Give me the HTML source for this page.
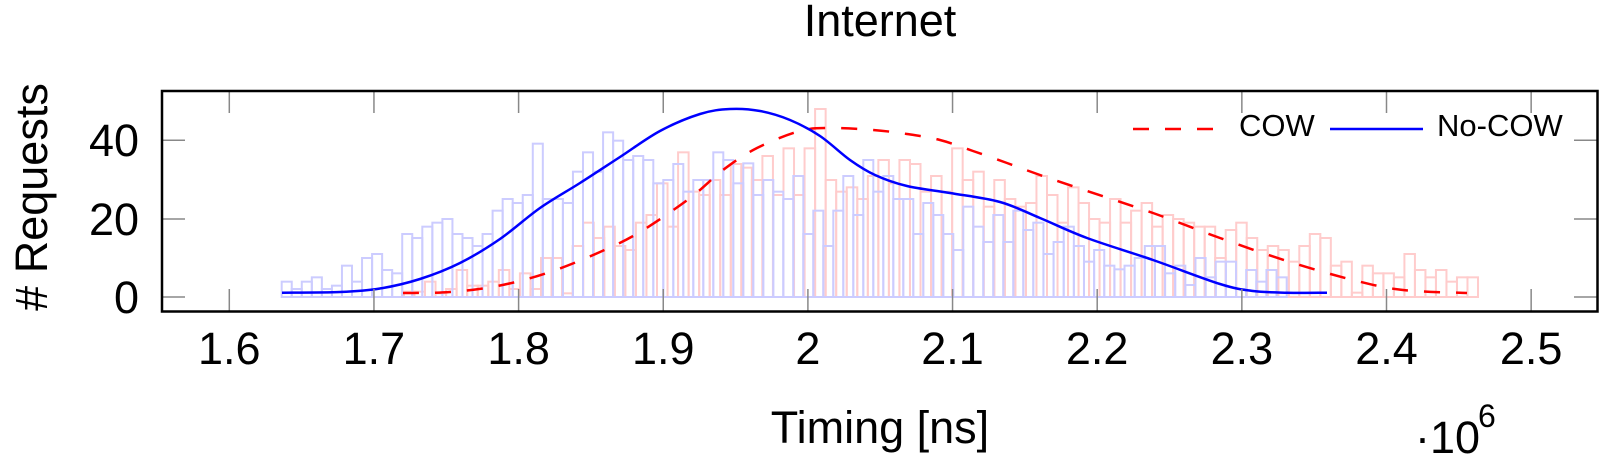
<!DOCTYPE html>
<html><head><meta charset="utf-8">
<style>
html,body{margin:0;padding:0;background:#fff;}
svg{display:block;}
text{font-family:"Liberation Sans","DejaVu Sans",sans-serif;fill:#000;}
</style></head>
<body>
<svg id="s" width="1600" height="462" viewBox="0 0 1600 462" xmlns="http://www.w3.org/2000/svg">
<text x="880" y="36" font-size="45" text-anchor="middle">Internet</text>
<g id="bars"></g>
<g id="curves"></g>
<g stroke="#888" stroke-width="1.5" id="ticks"></g>
<rect x="162" y="91" width="1435.5" height="220.5" fill="none" stroke="#000" stroke-width="2.5"/>
<g font-size="45" text-anchor="middle" id="xl"></g>
<g font-size="45" text-anchor="end">
<text x="139" y="156">40</text>
<text x="139" y="235">20</text>
<text x="139" y="313">0</text>
</g>
<text transform="translate(47,197) rotate(-90)" font-size="45" text-anchor="middle"># Requests</text>
<text x="880" y="443" font-size="45" text-anchor="middle">Timing [ns]</text>
<text x="1415" y="453" font-size="45">·10</text>
<text x="1478" y="427" font-size="32">6</text>
<line x1="1133" y1="129" x2="1213" y2="129" stroke="#f00" stroke-width="2.5" stroke-dasharray="16 16"/>
<text x="1239" y="136" font-size="31">COW</text>
<line x1="1330" y1="129" x2="1423" y2="129" stroke="#00f" stroke-width="2.5"/>
<text x="1437" y="136" font-size="31">No-COW</text>
</svg>
<script>
var NS="http://www.w3.org/2000/svg";
function el(p,n,a){var e=document.createElementNS(NS,n);for(var k in a)e.setAttribute(k,a[k]);p.appendChild(e);return e;}
var base=297;
function segs(list,x0,x1){var w=(x1-x0)/list.length;return list.map(function(t,i){return [x0+i*w,w,100+t/3];});}
var blue=[].concat(
 segs([545,567,545,532,567,557,497,545,474,462,510,520,402,414,380,368,357,402,414,438,402,332,297,309,285,131,297,297,309,215,157,215,97,122,180,168,180],281.7,653.3),
 segs([250,240,192,275,240,240,157,180,250,190,285,240,275,297,228,402,332,438,332,228,345,180,275,228,297,297,402,309,345,402,450,320,380,426,345,426,332,390],653.3,1033.3),
 segs([368,462,426,380,438,485,450,497,508,497,474,438,438,520,497,555,474,532,485,485,567,510,545,510,532],1033.3,1286.7));
var red=[].concat(
 segs([575,575],404,425),
 segs([545,580,567,510,557,557,545,510,567,520,567,474,474,580,438,368,414,380,438,450,368,345],425,657),
 segs([250,380,157,275,285,240,285,192,203,240,168,285,145,285,145,27,240,275,262,297,228,180,250,180,192,275,228,275,145,240,215,320,240,297,320,309,228],657,1047),
 segs([285,368,262,309,357,368,297,368,332,309,380,345,357,368,380,380,474,390,368,414,450,438,450,485,438,402,414,497,485,578,497,520,520,532,462,510,532,510,545,532,532],1047,1478));
var g=document.getElementById("bars");
red.forEach(function(b){el(g,"rect",{x:b[0],y:b[2],width:b[1],height:base-b[2],fill:"none",stroke:"#ffcccc","stroke-width":2});});
blue.forEach(function(b){el(g,"rect",{x:b[0],y:b[2],width:b[1],height:base-b[2],fill:"none",stroke:"#ccccff","stroke-width":2});});
function path(p){var d="M"+p[0][0]+","+p[0][1];for(var i=0;i<p.length-1;i++){var p0=p[i-1]||p[i],p1=p[i],p2=p[i+1],p3=p[i+2]||p2;
 d+=" C"+(p1[0]+(p2[0]-p0[0])/6)+","+(p1[1]+(p2[1]-p0[1])/6)+" "+(p2[0]-(p3[0]-p1[0])/6)+","+(p2[1]-(p3[1]-p1[1])/6)+" "+p2[0]+","+p2[1];}return d;}
var bc=[[282,292.7],[340,292],[380,288.5],[420,279],[460,263],[500,239],[540,208],[580,183],[620,157],[660,131],[700,114],[730,109],[760,111],[790,120],[820,136],[850,160],[875,175],[907,186],[950,193],[1000,202],[1040,218],[1087,238],[1153,260],[1220,284],[1253,291],[1287,292.7],[1327,292.7]];
var rc=[[403,293],[450,292],[500,285.5],[550,272],[600,252],[640,232],[690,198],[723,170],[757,148],[800,131],[830,128],[873,130],[907,134],[940,140],[973,151],[1007,163],[1040,175],[1087,191],[1153,213],[1220,238],[1287,261],[1353,280],[1403,290],[1467,293]];
var c=document.getElementById("curves");
el(c,"path",{d:path(rc),fill:"none",stroke:"#f00","stroke-width":2.5,"stroke-dasharray":"16 16"});
el(c,"path",{d:path(bc),fill:"none",stroke:"#00f","stroke-width":2.5});
var t=document.getElementById("ticks"),xl=document.getElementById("xl");
var labs=["1.6","1.7","1.8","1.9","2","2.1","2.2","2.3","2.4","2.5"];
for(var i=0;i<10;i++){var x=229.3+i*144.65;
 el(t,"line",{x1:x,y1:91,x2:x,y2:113});el(t,"line",{x1:x,y1:311,x2:x,y2:289});
 var tx=el(xl,"text",{x:x,y:364});tx.textContent=labs[i];}
[140.3,219,297].forEach(function(y){el(t,"line",{x1:162,y1:y,x2:185,y2:y});el(t,"line",{x1:1597,y1:y,x2:1574,y2:y});});
</script>
</body></html>
